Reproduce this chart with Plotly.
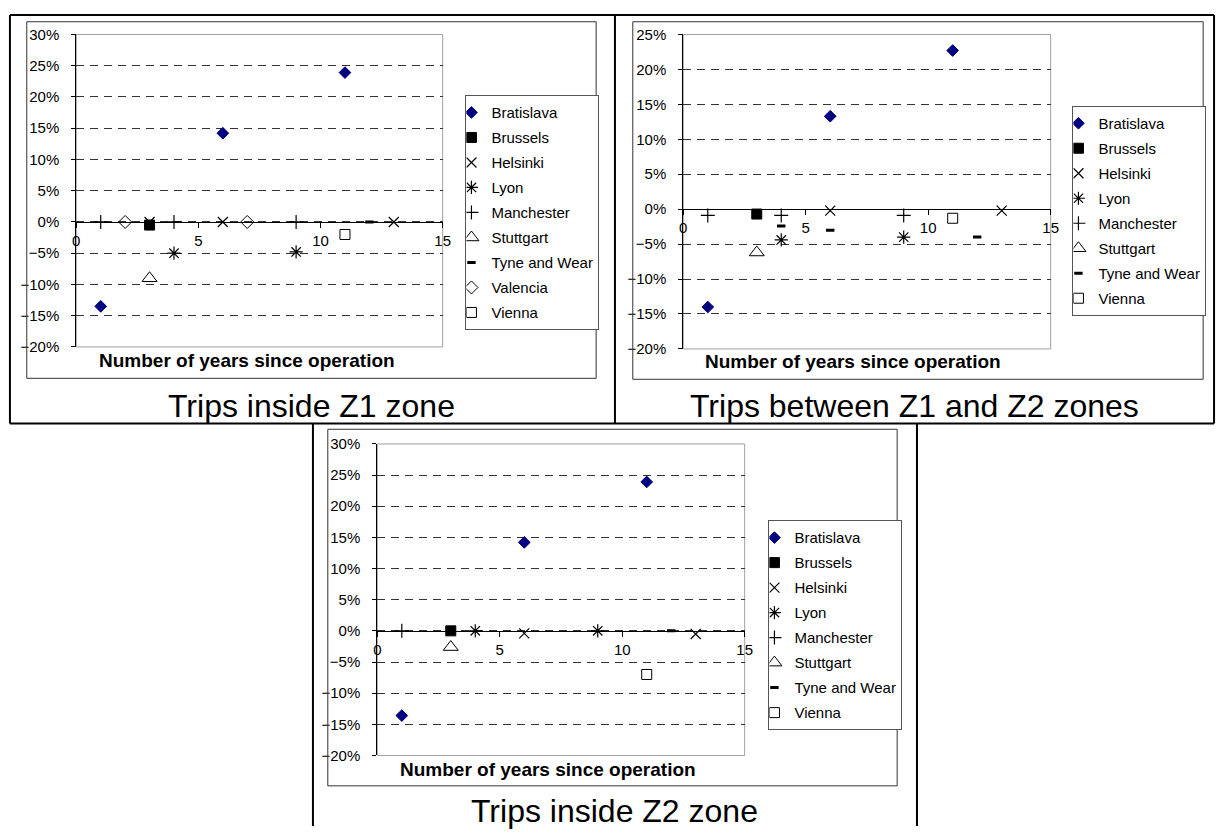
import plotly.graph_objects as go

W, H = 1226, 834
FONT = "Liberation Sans, Arial, sans-serif"

# ---- data: change in trips (%) vs. number of years since operation ----
cities = ["Bratislava", "Brussels", "Helsinki", "Lyon", "Manchester",
          "Stuttgart", "Tyne and Wear", "Valencia", "Vienna"]

# Trips inside Z1 zone
z1_bratislava_x = [1, 6, 11]
z1_bratislava_y = [-13.5, 14.2, 23.9]
z1_brussels_x = [3]
z1_brussels_y = [-0.5]
z1_helsinki_x = [3, 6, 13]
z1_helsinki_y = [0.0, 0.0, 0.0]
z1_lyon_x = [4, 9]
z1_lyon_y = [-5.0, -4.8]
z1_manchester_x = [1, 4, 9]
z1_manchester_y = [0.0, 0.0, 0.0]
z1_stuttgart_x = [3]
z1_stuttgart_y = [-9.0]
z1_tyne_x = [12]
z1_tyne_y = [0.0]
z1_valencia_x = [2, 7]
z1_valencia_y = [0.0, 0.0]
z1_vienna_x = [11]
z1_vienna_y = [-2.0]

# Trips between Z1 and Z2 zones
z12_bratislava_x = [1, 6, 11]
z12_bratislava_y = [-14.0, 13.3, 22.7]
z12_brussels_x = [3]
z12_brussels_y = [-0.7]
z12_helsinki_x = [6, 13]
z12_helsinki_y = [-0.2, -0.2]
z12_lyon_x = [4, 9]
z12_lyon_y = [-4.4, -4.0]
z12_manchester_x = [1, 4, 9]
z12_manchester_y = [-0.9, -0.9, -0.9]
z12_stuttgart_x = [3]
z12_stuttgart_y = [-6.2]
z12_tyne_x = [4, 6, 12]
z12_tyne_y = [-2.4, -3.0, -4.0]
z12_vienna_x = [11]
z12_vienna_y = [-1.3]

# Trips inside Z2 zone
z2_bratislava_x = [1, 6, 11]
z2_bratislava_y = [-13.6, 14.2, 23.9]
z2_brussels_x = [3]
z2_brussels_y = [0.0]
z2_helsinki_x = [6, 13]
z2_helsinki_y = [-0.4, -0.5]
z2_lyon_x = [4, 9]
z2_lyon_y = [0.0, 0.0]
z2_manchester_x = [1]
z2_manchester_y = [0.0]
z2_stuttgart_x = [3]
z2_stuttgart_y = [-2.6]
z2_tyne_x = [12]
z2_tyne_y = [0.0]
z2_vienna_x = [11]
z2_vienna_y = [-7.0]

x_ticks = [0, 5, 10, 15]
y_ticks_a = [-20, -15, -10, -5, 0, 5, 10, 15, 20, 25, 30]
y_ticks_b = [-20, -15, -10, -5, 0, 5, 10, 15, 20, 25]

x_title = "Number of years since operation"
captions = ["Trips inside Z1 zone", "Trips between Z1 and Z2 zones",
            "Trips inside Z2 zone"]

# ---- marker styles per city ----
styles = {
    "Bratislava": dict(symbol="diamond", size=9, color="#000080",
                       line=dict(color="#000080", width=1)),
    "Brussels": dict(symbol="square", size=10, color="#000000",
                     line=dict(color="#000000", width=1)),
    "Helsinki": dict(symbol="x-thin-open", size=10, color="#000000",
                     line=dict(color="#000000", width=1.2)),
    "Lyon": dict(symbol="asterisk-open", size=11, color="#000000",
                 line=dict(color="#000000", width=1.2)),
    "Manchester": dict(symbol="cross-thin-open", size=10, color="#000000",
                       line=dict(color="#000000", width=1.2)),
    "Stuttgart": dict(symbol="triangle-up-open", size=13, color="#000000",
                      line=dict(color="#000000", width=1)),
    "Tyne and Wear": dict(symbol="line-ew-open", size=6, color="#000000",
                          line=dict(color="#000000", width=3)),
    "Valencia": dict(symbol="diamond-open", size=10, color="#000000",
                     line=dict(color="#000000", width=1)),
    "Vienna": dict(symbol="square-open", size=10, color="#000000",
                   line=dict(color="#000000", width=1)),
}


def px(x):
    return x / W


def py(y):
    return 1 - y / H


# panel geometry in pixels
panels = [
    dict(key="", plot=(73, 443, 26, 345), box=(23, 598, 13, 377),
         yr=(-20, 30), yt=y_ticks_a, legend=(466, 88), title_xy=(245, 359),
         cap_xy=(311, 405),
         series=[("Bratislava", z1_bratislava_x, z1_bratislava_y),
                 ("Brussels", z1_brussels_x, z1_brussels_y),
                 ("Helsinki", z1_helsinki_x, z1_helsinki_y),
                 ("Lyon", z1_lyon_x, z1_lyon_y),
                 ("Manchester", z1_manchester_x, z1_manchester_y),
                 ("Stuttgart", z1_stuttgart_x, z1_stuttgart_y),
                 ("Tyne and Wear", z1_tyne_x, z1_tyne_y),
                 ("Valencia", z1_valencia_x, z1_valencia_y),
                 ("Vienna", z1_vienna_x, z1_vienna_y)]),
    dict(key="2", plot=(686, 1057, 26, 347), box=(635, 1211, 13, 378),
         yr=(-20, 25), yt=y_ticks_b, legend=(1079, 99), title_xy=(857, 360),
         cap_xy=(920, 405),
         series=[("Bratislava", z12_bratislava_x, z12_bratislava_y),
                 ("Brussels", z12_brussels_x, z12_brussels_y),
                 ("Helsinki", z12_helsinki_x, z12_helsinki_y),
                 ("Lyon", z12_lyon_x, z12_lyon_y),
                 ("Manchester", z12_manchester_x, z12_manchester_y),
                 ("Stuttgart", z12_stuttgart_x, z12_stuttgart_y),
                 ("Tyne and Wear", z12_tyne_x, z12_tyne_y),
                 ("Vienna", z12_vienna_x, z12_vienna_y)]),
    dict(key="3", plot=(377, 748, 444, 762), box=(327, 902, 429, 793),
         yr=(-20, 30), yt=y_ticks_a, legend=(772, 522), title_xy=(549, 776),
         cap_xy=(617, 819),
         series=[("Bratislava", z2_bratislava_x, z2_bratislava_y),
                 ("Brussels", z2_brussels_x, z2_brussels_y),
                 ("Helsinki", z2_helsinki_x, z2_helsinki_y),
                 ("Lyon", z2_lyon_x, z2_lyon_y),
                 ("Manchester", z2_manchester_x, z2_manchester_y),
                 ("Stuttgart", z2_stuttgart_x, z2_stuttgart_y),
                 ("Tyne and Wear", z2_tyne_x, z2_tyne_y),
                 ("Vienna", z2_vienna_x, z2_vienna_y)]),
]

fig = go.Figure()
layout = dict(
    width=W, height=H, autosize=False,
    margin=dict(l=0, r=0, t=0, b=0),
    paper_bgcolor="white", plot_bgcolor="white",
    font=dict(family=FONT, size=15, color="black"),
    shapes=[], annotations=[],
)

for p in panels:
    k = p["key"]
    xa, ya = "x" + k, "y" + k
    lg = "legend" + k
    x0, x1, y0, y1 = p["plot"]
    ymin, ymax = p["yr"]
    dom_y = [py(y1), py(y0)]
    # paper position of the 0% line, where the x axis crosses
    zero_pos = dom_y[0] + (0 - ymin) / (ymax - ymin) * (dom_y[1] - dom_y[0])

    for name, xs, ys in p["series"]:
        st = styles[name]
        fig.add_trace(go.Scatter(
            x=xs, y=[v / 100 for v in ys], mode="markers", name=name,
            xaxis=xa, yaxis=ya, legend=lg, legendgroup=k + name,
            marker=st, hoverinfo="skip",
        ))

    layout["xaxis" + k] = dict(
        domain=[px(x0), px(x1)], range=[0, 15], anchor="free",
        position=zero_pos, tickvals=x_ticks, showline=True,
        linecolor="black", linewidth=1, ticks="outside", ticklen=5,
        tickcolor="black", showgrid=False, zeroline=False,
        ticklabelstandoff=0, tickfont=dict(family=FONT, size=15),
    )
    layout["yaxis" + k] = dict(
        domain=dom_y, range=[ymin / 100, ymax / 100], anchor=xa,
        tickvals=[v / 100 for v in p["yt"]], tickformat=".0%",
        showline=True, linecolor="black", linewidth=1, ticks="outside",
        ticklen=4, tickcolor="black", showgrid=True, gridcolor="#333333",
        gridwidth=1, griddash="8px,6px", zeroline=False,
        ticklabelstandoff=9, tickfont=dict(family=FONT, size=15),
    )
    lx, ly = p["legend"]
    layout[lg] = dict(
        x=px(lx), y=py(ly), xanchor="left", yanchor="top",
        bgcolor="white", bordercolor="#555555", borderwidth=1,
        font=dict(family=FONT, size=15), traceorder="grouped",
        tracegroupgap=2.5, indentation=-15, itemclick=False,
    )

    # plot-area frame
    layout["shapes"].append(dict(
        type="rect", xref=xa + " domain", yref=ya + " domain",
        x0=0, x1=1, y0=0, y1=1, line=dict(color="#a0a0a0", width=1),
        layer="below"))
    # chart-area frame
    bx0, bx1, by0, by1 = p["box"]
    layout["shapes"].append(dict(
        type="rect", xref="paper", yref="paper",
        x0=px(bx0), x1=px(bx1), y0=py(by1), y1=py(by0),
        line=dict(color="#333333", width=1)))
    tx, ty = p["title_xy"]
    layout["annotations"].append(dict(
        text="<b>" + x_title + "</b>", xref="paper", yref="paper",
        x=px(tx), y=py(ty), showarrow=False, xanchor="center",
        yanchor="middle", font=dict(family=FONT, size=19, color="black")))

for p, cap in zip(panels, captions):
    cx, cy = p["cap_xy"]
    layout["annotations"].append(dict(
        text=cap, xref="paper", yref="paper", x=px(cx), y=py(cy),
        showarrow=False, xanchor="center", yanchor="middle",
        font=dict(family=FONT, size=32, color="black")))

# table cell borders
cell_lines = [
    (6, 6, 1222, 6), (6, 423, 1222, 423),
    (6, 6, 6, 423), (617, 6, 617, 423), (1222, 6, 1222, 423),
    (312, 423, 312, 834), (922, 423, 922, 834),
]
for ax0, ay0, ax1, ay1 in cell_lines:
    layout["shapes"].append(dict(
        type="line", xref="paper", yref="paper",
        x0=px(ax0), y0=py(ay0), x1=px(ax1), y1=py(ay1),
        line=dict(color="black", width=2)))

fig.update_layout(**layout)
fig.write_html("out.html", config={"displayModeBar": False})
